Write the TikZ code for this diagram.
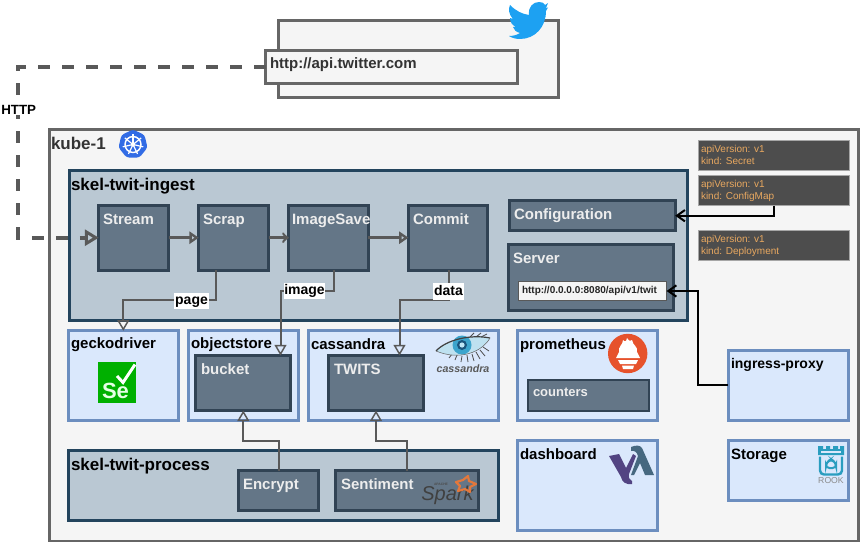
\documentclass[tikz,border=0pt]{standalone}
\usepackage{fontspec}
\setmainfont{Liberation Sans}
\usetikzlibrary{arrows.meta,positioning}
\definecolor{grayline}{HTML}{666666}
\definecolor{grayfill}{HTML}{F5F5F5}
\definecolor{wire}{HTML}{595959}
\definecolor{navy}{HTML}{23445D}
\definecolor{slatefill}{HTML}{BAC8D3}
\definecolor{podfill}{HTML}{647687}
\definecolor{podline}{HTML}{314354}
\definecolor{bluefill}{HTML}{DAE8FC}
\definecolor{blueline}{HTML}{6C8EBF}
\definecolor{yamlfill}{HTML}{4D4D4D}
\definecolor{yamltext}{HTML}{E8A860}
\definecolor{rookc}{HTML}{2A9DBF}
\tikzset{
  x=0.75pt,y=-0.75pt,
  every node/.style={inner sep=0pt,outer sep=0pt},
  grayb/.style={draw=grayline,fill=grayfill,line width=2.25pt},
  ingestb/.style={draw=navy,fill=slatefill,line width=2.25pt},
  podb/.style={draw=podline,fill=podfill,line width=2.25pt},
  thinpod/.style={draw=podline,fill=podfill,line width=1.5pt},
  svcb/.style={draw=blueline,fill=bluefill,line width=2.25pt},
  yamlb/.style={draw=gray!70,fill=yamlfill,line width=0.5pt},
  ltitle/.style={anchor=west,text height=8pt,text depth=0pt,font=\fontsize{11.25pt}{13pt}\selectfont\bfseries,text=black},
  lbig/.style={ltitle,text height=9pt,font=\fontsize{12.75pt}{15pt}\selectfont\bfseries},
  lwhite/.style={ltitle,text=white!93!black},
  ylab/.style={anchor=north west,align=left,font=\fontsize{7.5pt}{9pt}\selectfont,text=yamltext},
  wirelab/.style={fill=white,text height=8.5pt,text depth=2.8pt,font=\fontsize{10.5pt}{12pt}\selectfont\bfseries,text=black,inner xsep=0.5pt,inner ysep=0.5pt},
  dataflow/.style={draw=wire,line width=1.5pt,-{Triangle[open,length=8pt,width=9pt,line width=1.1pt]}},
  pipeflow/.style={draw=wire,line width=2.25pt,-{Triangle[open,length=7pt,width=9pt,line width=2pt]}},
  blackflow/.style={draw=black,line width=1.5pt,-{Straight Barb[length=6pt,width=8.5pt,line width=1.5pt]}},
}
% \bx{name}{style}{x1}{y1}{x2}{y2}
\newcommand{\bx}[6]{\node[#2,minimum width={(#5-#3)*0.75pt},minimum height={(#6-#4)*0.75pt},anchor=center] (#1) at ({(#3+#5)/2},{(#4+#6)/2}) {};}
\begin{document}
\begin{tikzpicture}
\useasboundingbox (0,0) rectangle (860,542);
% twitter
\bx{twbox}{grayb}{278.8}{20.8}{558.5}{98}
\bx{urlbox}{grayb}{265.8}{50.8}{517.5}{83.5}
\node[ltitle,text=black!80] (urlt) at (270,63.5) {http://api.twitter.com};
\fill[color={rgb,255:red,29;green,161;blue,242}] (510,5) .. controls (516,11) and (522,14) .. (529,15) .. controls (528,7) and (533,2) .. (539,2) .. controls (542,2) and (544,3) .. (545,5) -- (548,3) -- (546,8) -- (548,7.5) -- (546,11) .. controls (546,27) and (535,39) .. (520,39) .. controls (516,39) and (512,38) .. (509,36) .. controls (513,36) and (517,35) .. (520,33) .. controls (516,32) and (514,30) .. (513,27) -- (516,27) .. controls (512,25) and (510,22) .. (510,18) -- (513,19) .. controls (509,15) and (508,9) .. (510,5) -- cycle;
% kube
\bx{kube}{grayb}{49}{129.8}{858.8}{541}
\node[lbig,text=black!80] (kubet) at (51,143.7) {kube-1};
\coordinate (kc) at (133,144.5);
\fill[color={rgb,255:red,50;green,108;blue,229},rounded corners=2pt] (133,129.5)--(144.5,135)--(147.5,147.5)--(139.5,157.5)--(126.5,157.5)--(118.5,147.5)--(121.5,135)--cycle;
\draw[white,line width=1.1pt] (kc) circle (8);
\foreach \a in {0,51.4,102.9,154.3,205.7,257.1,308.6}
  \draw[white,line width=0.9pt] (kc) -- ++(\a-90:10.5);
\fill[white] (kc) circle (2);
% ingest
\bx{ingest}{ingestb}{69}{170.8}{687.8}{320.2}
\node[lbig] (ingestt) at (71,184) {skel-twit-ingest};
\bx{stream}{podb}{98.8}{205.8}{168.5}{270.2}
\node[lwhite] at (103,218.8) {Stream};
\bx{scrap}{podb}{198.8}{205.8}{268.5}{270.2}
\node[lwhite] at (203,218.8) {Scrap};
\bx{imagesave}{podb}{288.8}{205.8}{368.2}{270.2}
\node[lwhite] at (292,218.8) {ImageSave};
\bx{commit}{podb}{408.5}{205.8}{487.8}{270.2}
\node[lwhite] at (413,218.8) {Commit};
\bx{config}{podb}{509.8}{200.5}{675.2}{230.2}
\node[lwhite] at (514,213.7) {Configuration};
\bx{server}{podb}{508.8}{244.8}{673.8}{310.5}
\node[lwhite] at (513,258) {Server};
\bx{apiurl}{draw=gray!70!black,fill=grayfill,line width=1pt}{518.4}{281.4}{666.6}{300.3}
\node[anchor=west,font=\fontsize{7.5pt}{9pt}\selectfont\bfseries,text=black!85] at (522,290.5) {http://0.0.0.0:8080/api/v1/twit};
% yaml
\bx{ysecret}{yamlb}{698.3}{140.3}{849}{170.5}
\node[ylab] at (701,144.8) {apiVersion: v1\\kind: Secret};
\bx{yconfig}{yamlb}{698.3}{175.8}{849}{205.5}
\node[ylab] at (701,179.8) {apiVersion: v1\\kind: ConfigMap};
\bx{ydeploy}{yamlb}{698.3}{230.3}{849}{260.5}
\node[ylab] at (701,234.8) {apiVersion: v1\\kind: Deployment};
% services
\bx{gecko}{svcb}{68.8}{330.8}{178.5}{420.2}
\node[ltitle] at (71,343.5) {geckodriver};
\fill[color={rgb,255:red,0;green,176;blue,0}] (97.7,362.3) rectangle (136.3,402.7);
\node[anchor=center,font=\fontsize{16.5pt}{17pt}\selectfont\bfseries,text=white!90!green] (se) at (115.5,390.5) {Se};
\draw[white,line width=2.2pt] (117,376) -- (123,382.5) -- (135,364.5);
\bx{ostore}{svcb}{188.5}{330.8}{298.5}{420.2}
\node[ltitle] at (191,343.5) {objectstore};
\bx{bucket}{podb}{195.8}{355.5}{290.8}{410.5}
\node[lwhite] at (201,368.7) {bucket};
\bx{cass}{svcb}{308.8}{330.8}{498.5}{420.2}
\node[ltitle] at (311,344) {cassandra};
\bx{twits}{podb}{328.5}{355.5}{423.5}{410.5}
\node[lwhite] at (334,368.7) {TWITS};
% cassandra eye
\foreach \xa/\ya/\xb/\yb in {452/354/449/358,457/355/455/360,462/356/461/362,467/355/468/362,472/354/474/361,476/352/480/359,480/350/485/356,483/347/489/351,470/337/474/333,476/337/481/333,481/337/487/334}
  \draw[black!70,line width=0.6pt] (\xa,\ya) -- (\xb,\yb);
\fill[color={rgb,255:red,190;green,225;blue,240}] (436,351) .. controls (446,340) and (470,334) .. (490,338) .. controls (482,352) and (460,361) .. (436,351) -- cycle;
\fill[color={rgb,255:red,60;green,165;blue,205}] (462,345) circle (9.5);
\fill[color={rgb,255:red,25;green,85;blue,125}] (462,345) circle (5);
\fill[color={rgb,255:red,190;green,230;blue,245}] (462,345) circle (2.6);
\draw[black!75,line width=0.9pt] (436,351) .. controls (446,340) and (470,334) .. (490,338);
\draw[black!60,line width=0.4pt] (436,351) .. controls (460,361) and (482,352) .. (490,338);
\node[anchor=center,font=\fontsize{8pt}{9pt}\selectfont\bfseries\itshape,text=black!65] (casst) at (463,369) {cassandra};
\bx{prom}{svcb}{517.5}{330.8}{657.5}{420.2}
\node[ltitle] at (520,344) {prometheus};
\fill[color={rgb,255:red,230;green,82;blue,44}] (627.7,353.5) circle (19.7);
\fill[white] (619,352) .. controls (618,346) and (623,345) .. (623,340) .. controls (625,342) and (626,342) .. (627,338) .. controls (629,341) and (631,342) .. (632,340) .. controls (633,346) and (638,346) .. (637,352) -- (640,358) -- (616,358) -- cycle;
\fill[white] (618,360) -- (638,360) -- (636,364) -- (620,364) -- cycle;
\fill[white] (622,365.5) -- (634,365.5) -- (633,369) -- (623,369) -- cycle;
\bx{counters}{thinpod}{528.3}{380.3}{648.7}{410.7}
\node[anchor=west,font=\fontsize{9.75pt}{11pt}\selectfont\bfseries,text=white!93!black] at (533,392.5) {counters};
\bx{dash}{svcb}{517.5}{440.5}{657.5}{530.5}
\node[ltitle] at (520,453.7) {dashboard};
\fill[color={rgb,255:red,82;green,68;blue,130}] (609,456) -- (619,454) -- (626,468) -- (633,454) -- (636,456) -- (629,474) .. controls (628,478) and (630,480) .. (632,481) -- (632,484) .. controls (626,485) and (622,482) .. (621,477) -- cycle;
\fill[color={rgb,255:red,70;green,104;blue,128}] (631,447) .. controls (636,445) and (640,445) .. (642,448) -- (654,475) -- (645,475) -- (640,463) -- (634,475) -- (631,475) -- (638,456) .. controls (637,452) and (634,450) .. (631,451) -- cycle;
\bx{ingress}{svcb}{728.2}{350.5}{848.5}{420.2}
\node[ltitle,font=\fontsize{10.5pt}{13pt}\selectfont\bfseries] at (731,363) {ingress-proxy};
\bx{storage}{svcb}{728.2}{440.5}{848.5}{500.5}
\node[ltitle] at (731,454) {Storage};
% rook
\fill[color=rookc] (818,446) -- (823,446) -- (823,449) -- (826,449) -- (826,446) -- (830,446) -- (830,449) -- (833,449) -- (833,446) -- (838,446) -- (838,449) -- (840,449) -- (840,446) -- (844,446) -- (844,455) -- (818,455) -- cycle;
\fill[color=bluefill] (821,450.5) rectangle (841,452.5);
\draw[color=rookc,line width=1.8pt,rounded corners=3pt] (820,456.5) -- (820,474.5) -- (842,474.5) -- (842,456.5);
\draw[color=rookc,line width=1.5pt,rounded corners=2.5pt] (826,468) -- (826,463) -- (830,460) -- (832,460) -- (836,463) -- (836,468) -- cycle;
\node[anchor=center,font=\fontsize{6.5pt}{7pt}\selectfont,text=black!45] (rookt) at (831,481) {ROOK};
% process
\bx{process}{ingestb}{68.8}{450.5}{498.5}{520.2}
\node[lbig] at (71,464.5) {skel-twit-process};
\bx{encrypt}{podb}{238.5}{470.5}{318.5}{510.5}
\node[lwhite] at (243,484) {Encrypt};
\bx{sentiment}{podb}{335.8}{470.5}{478.5}{510.5}
\node[lwhite] at (341,484) {Sentiment};
% spark
\node[anchor=center,font=\fontsize{15pt}{15pt}\selectfont\itshape,text=black!75] (sparkt) at (447.5,495) {Spark};
\node[anchor=center,font=\fontsize{2.5pt}{3pt}\selectfont\bfseries,text=black!70] (apachet) at (441,484) {APACHE};
\draw[color={rgb,255:red,227;green,120;blue,60},line width=1.6pt,line join=round] (456,482) -- (463,480) -- (468,476) -- (469,481) -- (476,484) -- (470,487) -- (470,492) -- (465,489) -- (458,491) -- (460,486) -- cycle;
% connectors
\coordinate (d1) at (18.3,66.8);
\coordinate (d2) at (18.3,237.7);
\draw[draw=wire,line width=3pt,dash pattern=on 9pt off 9pt,-{Triangle[open,length=10.5pt,width=12pt,line width=2.25pt]}] (d1-|urlbox.west) -- (d1) -- (d2) -- (d2-|stream.west);
\node[fill=white,font=\fontsize{10pt}{11pt}\selectfont\bfseries,inner sep=0.5pt] (http) at (18.7,110) {HTTP};
\draw[pipeflow] (d2-|stream.east) -- (d2-|scrap.west);
\draw[pipeflow,-{Classical TikZ Rightarrow[length=5pt,width=8pt,line width=1.5pt]}] (d2-|scrap.east) -- (d2-|imagesave.west);
\draw[pipeflow] (d2-|imagesave.east) -- (d2-|commit.west);
\coordinate (p1) at (215.7,300); \coordinate (p2) at (123.3,300);
\draw[dataflow] (p1|-scrap.south) -- (p1) -- (p2) -- (p2|-gecko.north);
\node[wirelab] (pagel) at (191.5,301) {page};
\coordinate (i1) at (334,290.7); \coordinate (i2) at (280.5,290.7);
\draw[dataflow] (i1|-imagesave.south) -- (i1) -- (i2) -- (i2|-bucket.north);
\node[wirelab] (imagel) at (304.5,291) {image};
\coordinate (t1) at (448.5,300); \coordinate (t2) at (399.5,300);
\draw[dataflow] (t1|-commit.south) -- (t1) -- (t2) -- (t2|-twits.north);
\node[wirelab] (datal) at (448.5,291.5) {data};
\coordinate (e1) at (278.5,440.7); \coordinate (e2) at (243.3,440.7);
\draw[dataflow] (e1|-encrypt.north) -- (e1) -- (e2) -- (e2|-bucket.south);
\coordinate (s1) at (407.3,440.7); \coordinate (s2) at (376,440.7);
\draw[dataflow] (s1|-sentiment.north) -- (s1) -- (s2) -- (s2|-twits.south);
\coordinate (c1) at (774,215.7);
\draw[blackflow] (c1|-yconfig.south) -- (c1) -- (c1-|config.east);
\coordinate (g1) at (698,385); \coordinate (g2) at (698,291);
\draw[blackflow] (g1-|ingress.west) -- (g1) -- (g2) -- (g2-|apiurl.east);
\end{tikzpicture}
\end{document}
